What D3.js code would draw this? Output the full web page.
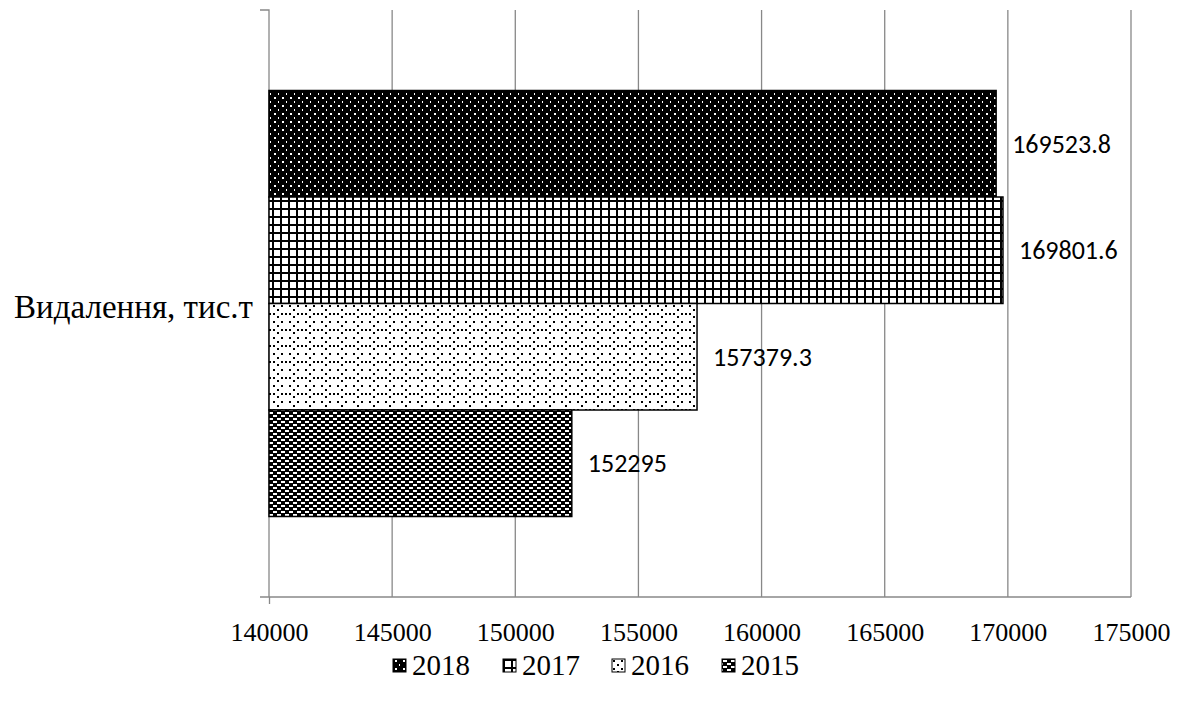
<!DOCTYPE html>
<html>
<head>
<meta charset="utf-8">
<script src="https://cdn.jsdelivr.net/npm/d3@7"></script>
<style>
  body { margin: 0; background: #fff; }
  svg { display: block; }
</style>
</head>
<body>
<script>
const category = "Видалення, тис.т";
const years = ["2018", "2017", "2016", "2015"];
const values = [169523.8, 169801.6, 157379.3, 152295];
const labels = ["169523.8", "169801.6", "157379.3", "152295"];
const xTicks = [140000, 145000, 150000, 155000, 160000, 165000, 170000, 175000];

const W = 1184, H = 701;
const L = 269, R = 1131, T = 10, B = 597;
const serif = "'Liberation Serif', 'Times New Roman', serif";

const svg = d3.select("body").append("svg")
  .attr("width", W)
  .attr("height", H);

// fill patterns, one per year
const defs = svg.append("defs");

function pat(id, w, h, bg, fg, rects) {
  const p = defs.append("pattern")
    .attr("id", id)
    .attr("patternUnits", "userSpaceOnUse")
    .attr("width", w)
    .attr("height", h);
  p.append("rect").attr("width", w).attr("height", h).attr("fill", bg);
  rects.forEach(r => p.append("rect")
    .attr("x", r[0]).attr("y", r[1]).attr("width", r[2]).attr("height", r[3])
    .attr("fill", fg));
}

pat("p2018", 8, 8, "#000", "#fff", [[2, 1, 2, 2], [6, 5, 1, 2]]);
pat("p2017", 8, 8, "#000", "#fff", [[2, 2, 6, 6]]);
pat("p2016", 16, 16, "#fff", "#000", [[1, 1, 2, 2], [9, 1, 2, 2], [5, 5, 2, 2], [13, 9, 2, 2], [1, 9, 2, 2], [9, 9, 2, 2], [5, 12, 2, 2]]);
pat("p2015", 8, 6, "#000", "#fff", [[1, 1, 4, 2], [5, 4, 3, 2], [0, 4, 1, 2]]);

const x = d3.scaleLinear()
  .domain([140000, 175000])
  .range([L, R]);

const y = d3.scaleBand()
  .domain([category])
  .range([T, B]);

const yBar = d3.scaleBand()
  .domain(years)
  .range([y(category) + 80.5, y(category) + y.bandwidth() - 80.5]);

// gridlines
svg.append("g")
  .selectAll("line")
  .data(xTicks.slice(1))
  .join("line")
    .attr("x1", d => x(d)).attr("x2", d => x(d))
    .attr("y1", T).attr("y2", B)
    .attr("stroke", "#888")
    .attr("stroke-width", 1.3);

// x axis
const xAxis = d3.axisBottom(x)
  .tickValues(xTicks)
  .tickFormat(d3.format("d"))
  .tickSize(7);

const gx = svg.append("g")
  .attr("transform", `translate(0,${B})`)
  .call(xAxis);
gx.select(".domain").attr("stroke", "#888").attr("stroke-width", 1.3)
  .attr("d", `M${L - 9},0H${R}`);
gx.selectAll(".tick line").attr("stroke", "#888").attr("stroke-width", 1.3)
  .attr("y2", d => d === 140000 ? 7 : 0);
gx.selectAll(".tick text")
  .attr("y", 26)
  .attr("font-family", serif)
  .attr("font-size", 26)
  .attr("fill", "#000");

// y axis
const gy = svg.append("g")
  .attr("transform", `translate(${L},0)`)
  .call(d3.axisLeft(y).tickSize(0).tickFormat(""));
gy.select(".domain").attr("stroke", "#888").attr("stroke-width", 1.3)
  .attr("d", `M-9,${T}H0V${B}`);

svg.append("text")
  .attr("x", 253)
  .attr("y", y(category) + y.bandwidth() / 2 + 14)
  .attr("text-anchor", "end")
  .attr("font-family", serif)
  .attr("font-size", 33)
  .text(category);

// bars
svg.append("g")
  .selectAll("rect")
  .data(years)
  .join("rect")
    .attr("x", x(140000))
    .attr("y", d => yBar(d))
    .attr("width", (d, i) => x(values[i]) - x(140000))
    .attr("height", yBar.bandwidth())
    .attr("fill", d => `url(#p${d})`)
    .attr("stroke", "#000")
    .attr("stroke-width", 1.5);

// value labels
svg.append("g")
  .selectAll("text")
  .data(years)
  .join("text")
    .attr("x", (d, i) => x(values[i]) + 16)
    .attr("y", d => yBar(d) + yBar.bandwidth() / 2 + 9)
    .attr("font-family", "Carlito, 'Open Sans', 'Noto Sans', sans-serif")
    .attr("font-size", 26)
    .text((d, i) => labels[i]);

// legend
const legendX = [393, 503, 612, 722];
const lg = svg.append("g")
  .selectAll("g")
  .data(years)
  .join("g")
    .attr("transform", (d, i) => `translate(${legendX[i]},659)`);
lg.append("rect")
  .attr("width", 13).attr("height", 13)
  .attr("fill", d => `url(#p${d})`)
  .attr("stroke", "#000")
  .attr("stroke-width", 1);
lg.append("text")
  .attr("x", 19)
  .attr("y", 16)
  .attr("font-family", serif)
  .attr("font-size", 29)
  .text(d => d);
</script>
</body>
</html>
